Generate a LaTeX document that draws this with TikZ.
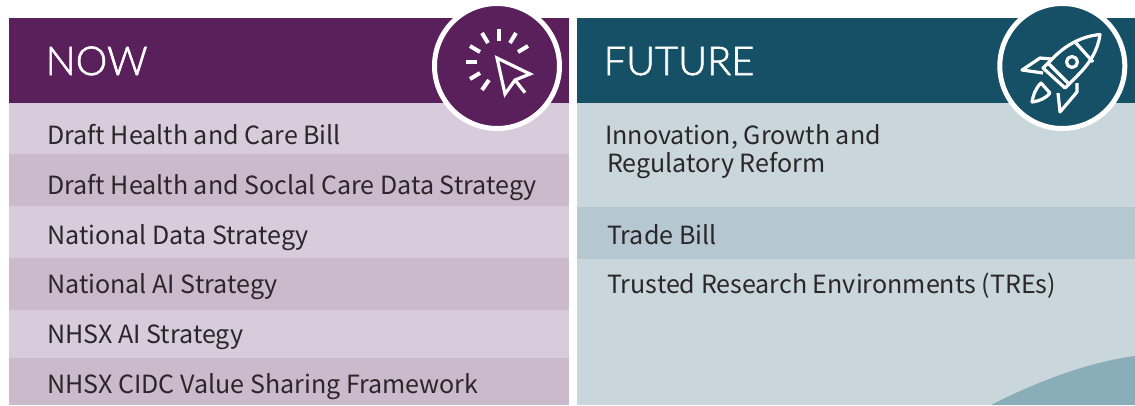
\documentclass[tikz,border=0pt]{standalone}
\usepackage{fontspec}
\setmainfont{Noto Sans CJK SC}
\newfontfamily\headfont[FakeBold=1.6]{Lato Light}
\definecolor{nowdark}{HTML}{5A205C}
\definecolor{nowlight}{HTML}{D8CCDC}
\definecolor{nowmid}{HTML}{CBB9CC}
\definecolor{futdark}{HTML}{155066}
\definecolor{futlight}{HTML}{C9D6DC}
\definecolor{futmid}{HTML}{B5C7D0}
\definecolor{futhill}{HTML}{8AAEB9}
\definecolor{inktext}{HTML}{2B2629}
\tikzset{
  rowtext/.style={anchor=base west,inner sep=0pt,font=\fontsize{25.05}{30}\selectfont,text=inktext},
  headtext/.style={anchor=base west,inner sep=0pt,font=\fontsize{39.8}{46}\headfont,text=white},
  badge/.style={circle,draw=white,line width=5pt,minimum size=125pt,inner sep=0pt,outer sep=0pt},
  icon/.style={draw=white,line width=3.2pt},
  ray/.style={draw=white,line width=4pt},
}
\begin{document}
\begin{tikzpicture}[x=1pt,y=-1pt]
\useasboundingbox (0,0) rectangle (1135,405);
\fill[white] (0,0) rectangle (1135,405);
% left panel
\fill[nowlight] (9,103) rectangle (569,405);
\fill[nowmid] (9,154) rectangle (569,206);
\fill[nowmid] (9,258) rectangle (569,310);
\fill[nowmid] (9,358) rectangle (569,405);
\fill[nowdark] (9,18) rectangle (569,103);
% right panel
\fill[futlight] (577,103) rectangle (1135,405);
\fill[futmid] (577,207) rectangle (1135,259);
\fill[futdark] (577,18) rectangle (1135,103);
\begin{scope}
\clip (577,103) rectangle (1135,405);
\fill[futhill] (991,405) .. controls (1040,380) and (1090,362) .. (1135,356) -- (1135,405) -- cycle;
\end{scope}
\node[headtext] (now) at (45.5,75) {NOW};
\node[headtext] (future) at (603.5,75) {FUTURE};
\node[rowtext] (l1) at (47,144) {Draft Health and Care Bill};
\node[rowtext] (l2) at (47,194) {Draft Health and Soclal Care Data Strategy};
\node[rowtext] (l3) at (47,244) {National Data Strategy};
\node[rowtext] (l4) at (47,293) {National AI Strategy};
\node[rowtext] (l5) at (47,343) {NHSX AI Strategy};
\node[rowtext] (l6) at (47,393) {NHSX CIDC Value Sharing Framework};
\node[rowtext] (r1) at (605,144) {Innovation, Growth and};
\node[rowtext] (r1b) at (607,172) {Regulatory Reform};
\node[rowtext] (r2) at (607,244) {Trade Bill};
\node[rowtext] (r3) at (607,293) {Trusted Research Environments (TREs)};
% badges
\node[badge,fill=nowdark] (b1) at (497,66) {};
\node[badge,fill=futdark] (b2) at (1062.3,66) {};
% cursor icon
\draw[icon,line join=miter] (497,58) -- (530,74) -- (515,80) -- (505,94) -- cycle;
\draw[icon] (515,80) -- (525,92.7);
\foreach \a/\b/\c/\d in {499/29/499/41, 516/33/510/43, 528/46/518/52, 482/33/488/43, 470/46/480/52, 466/62/477/62, 470/79/480/73, 482/90/489/80}
  \draw[ray] (\a,\b) -- (\c,\d);
% rocket icon
\begin{scope}[line join=round]
\draw[icon] (1100,34.5) .. controls (1084,36) and (1068,43) .. (1053,58) -- (1043,68) -- (1065,88) -- (1078,75) .. controls (1090,63) and (1098,50) .. (1100,34.5) -- cycle;
\draw[icon] (1076,43) -- (1093,62);
\draw[icon] (1048,63) -- (1070,85);
\draw[icon] (1052,59) -- (1040,58) -- (1022,70) -- (1043,73);
\draw[icon] (1077,83) -- (1077,92) -- (1060,112) -- (1058,93);
\draw[icon] (1041,83) .. controls (1035,89) and (1033,96) .. (1032,102) .. controls (1040,101) and (1046,98) .. (1050,93) -- cycle;
\draw[icon] (1072,62) circle (5.5pt);
\end{scope}
\end{tikzpicture}
\end{document}
